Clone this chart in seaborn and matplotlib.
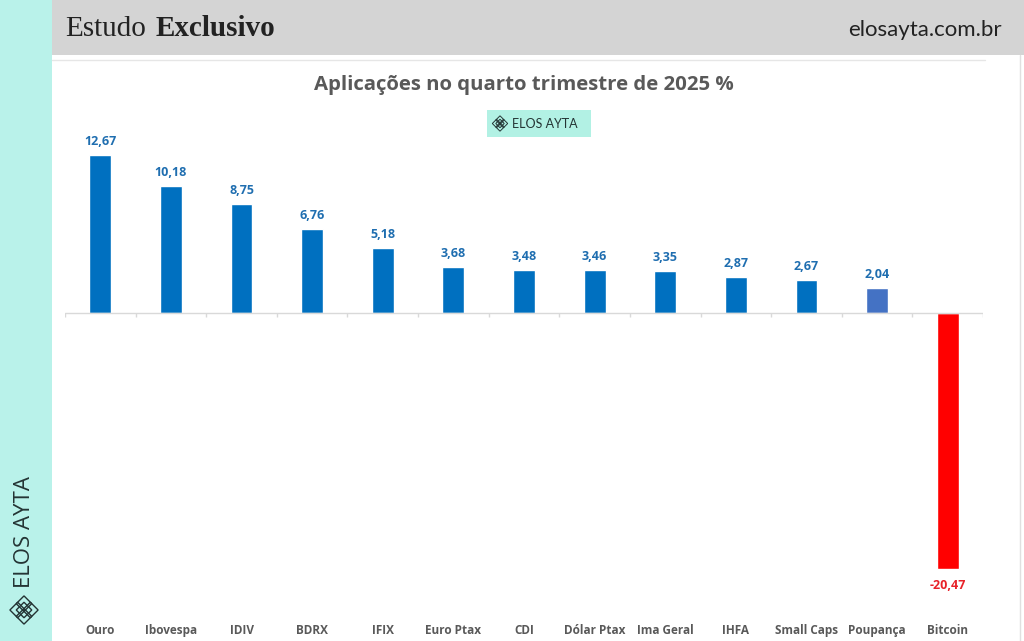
import matplotlib
matplotlib.use("Agg")
import matplotlib.pyplot as plt
import seaborn as sns
import numpy as np
import pandas as pd
from matplotlib.patches import Rectangle, Polygon

categories = ["Ouro", "Ibovespa", "IDIV", "BDRX", "IFIX", "Euro Ptax", "CDI",
              "Dólar Ptax", "Ima Geral", "IHFA", "Small Caps", "Poupança", "Bitcoin"]
values = [12.67, 10.18, 8.75, 6.76, 5.18, 3.68, 3.48, 3.46, 3.35, 2.87, 2.67, 2.04, -20.47]
bar_colors = ["#0070c0"] * 11 + ["#4472c4", "#ff0000"]
title = "Aplicações no quarto trimestre de 2025 %"

sns.set_theme(style="white")
plt.rcParams['font.family'] = ['Open Sans', 'DejaVu Sans']

fig = plt.figure(figsize=(10.24, 6.41), dpi=100)
fig.patch.set_facecolor("white")

# decorative frame
fig.add_artist(Rectangle((0, 0), 52/1024, 1, transform=fig.transFigure,
                         facecolor="#b9f2ea", edgecolor="none", zorder=0))
fig.add_artist(Rectangle((52/1024, 1-55/641), 1-52/1024, 55/641, transform=fig.transFigure,
                         facecolor="#d4d4d4", edgecolor="none", zorder=0))
fig.add_artist(plt.Line2D([52/1024, 985/1024], [1-60/641, 1-60/641], transform=fig.transFigure,
                          color="#e6e6e6", lw=1))
fig.add_artist(plt.Line2D([1020/1024, 1020/1024], [0, 1-55/641], transform=fig.transFigure,
                          color="#e0e0e0", lw=1))

fig.text(65/1024, 1-29/641, "Estudo", family="Liberation Serif", fontsize=21,
         color="#222222", va="center", ha="left")
fig.text(156/1024, 1-29/641, "Exclusivo", family="Liberation Serif", fontsize=21,
         fontweight="bold", color="#222222", va="center", ha="left")
fig.text(1002/1024, 1-30/641, "elosayta.com.br", family="Lato", fontsize=16,
         color="#222222", va="center", ha="right")

# left vertical brand
fig.text(25/1024, 1-532/641, "ELOS AYTA", rotation=90, family="Open Sans", fontsize=16,
         color="#243434", va="center", ha="center")

def lattice(cx, cy, s, sx, lw):
    # small interlocking diamond icon (figure coords)
    for dx, dy in [(-1, 0), (1, 0), (0, -1), (0, 1), (0, 0)]:
        x0, y0 = cx + dx*s*0.45*sx, cy + dy*s*0.45
        pts = [(x0, y0 + s*0.55), (x0 + s*0.55*sx, y0), (x0, y0 - s*0.55), (x0 - s*0.55*sx, y0)]
        fig.add_artist(Polygon(pts, closed=True, fill=False, edgecolor="#243434", lw=lw,
                               transform=fig.transFigure))

aspect = 641/1024
lattice(24/1024, 1-610/641, 0.022, aspect, 1.0)

# center logo box
fig.add_artist(Rectangle((487/1024, 1-137/641), 104/1024, 27/641, transform=fig.transFigure,
                         facecolor="#b2f1e4", edgecolor="none"))
lattice(500/1024, 1-123.5/641, 0.012, aspect, 0.7)
fig.text(512/1024, 1-123.5/641, "ELOS AYTA", family="Lato", fontsize=9,
         color="#243434", va="center", ha="left")

fig.text(524/1024, 1-85/641, title, fontsize=14.7, fontweight="bold",
         color="#595959", ha="center", va="center")

ax = fig.add_axes([65/1024, 1-620/641, (983-65)/1024, (620-60)/641])
df = pd.DataFrame({"cat": categories, "val": values})
sns.barplot(data=df, x="cat", y="val", hue="cat", palette=bar_colors, legend=False,
            width=0.31, ax=ax, saturation=1)
ax.set_ylim(-24.56, 20.24)
ax.set_xlim(-0.5, len(categories) - 0.5)
ax.set_facecolor("none")
for s in ax.spines.values():
    s.set_visible(False)
ax.set_yticks([])
ax.set_xlabel("")
ax.set_ylabel("")
ax.tick_params(axis="x", length=0, pad=3)
for lab in ax.get_xticklabels():
    lab.set_fontsize(8.5)
    lab.set_fontweight("bold")
    lab.set_color("#595959")

ax.axhline(0, color="#d9d9d9", lw=1, zorder=1)
ax.vlines(np.arange(len(categories) + 1) - 0.5, -0.35, 0, color="#d9d9d9", lw=1, zorder=1)

for container in ax.containers:
    for bar in container:
        h = bar.get_height()
        if np.isnan(h):
            continue
        txt = f"{h:.2f}".replace(".", ",")
        col = "#1f6eb0" if h >= 0 else "#e8232a"
        ax.annotate(txt, (bar.get_x() + bar.get_width()/2, h),
                    xytext=(0, 5 if h >= 0 else -7), textcoords="offset points",
                    ha="center", va="bottom" if h >= 0 else "top",
                    fontsize=9, fontweight="bold", color=col)

fig.savefig("out.png", dpi=100)
